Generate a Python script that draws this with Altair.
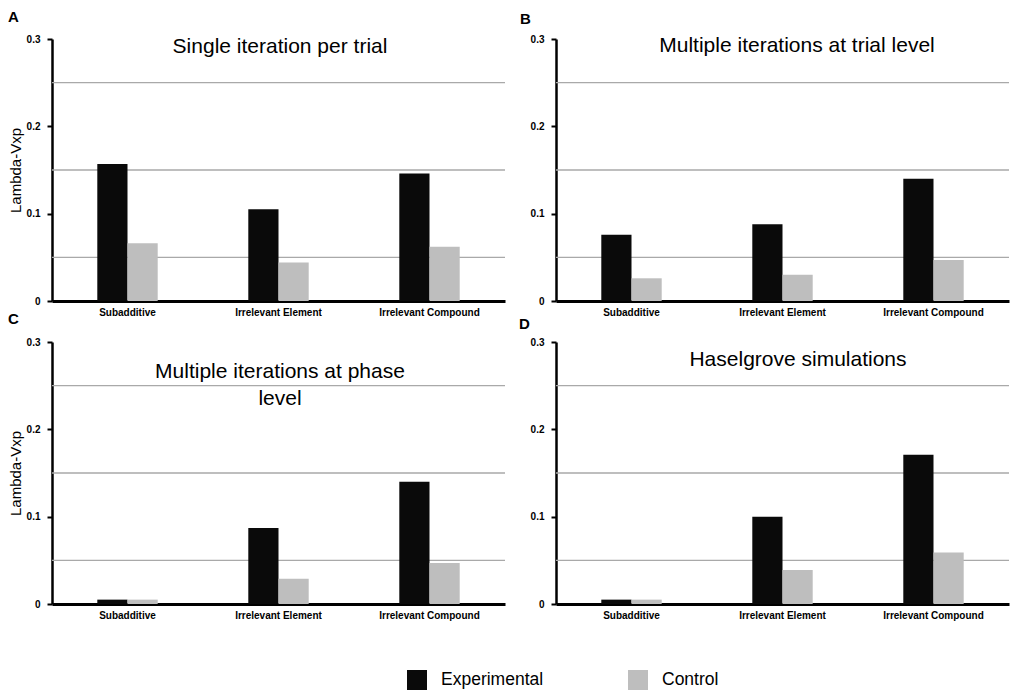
import altair as alt
import pandas as pd

categories = ["Subadditive", "Irrelevant Element", "Irrelevant Compound"]
series = ["Experimental", "Control"]
colors = ["#0a0a0a", "#bebebe"]
panel_letters = ["A", "B", "C", "D"]
panel_titles = [
    "Single iteration per trial",
    "Multiple iterations at trial level",
    "Multiple iterations at phase\nlevel",
    "Haselgrove simulations",
]
exp_A = [0.157, 0.105, 0.146]
ctl_A = [0.066, 0.044, 0.062]
exp_B = [0.076, 0.088, 0.140]
ctl_B = [0.026, 0.030, 0.047]
exp_C = [0.005, 0.087, 0.140]
ctl_C = [0.005, 0.029, 0.047]
exp_D = [0.005, 0.100, 0.171]
ctl_D = [0.005, 0.039, 0.059]
y_ticks = [0, 0.1, 0.2, 0.3]
grid_values = [0.05, 0.15, 0.25]
y_title = "Lambda-Vxp"

FONT = "Liberation Sans"
W, H = 453, 262

panel_exp = [exp_A, exp_B, exp_C, exp_D]
panel_ctl = [ctl_A, ctl_B, ctl_C, ctl_D]
# per-panel placement of letters and titles (pixels relative to plot area)
letter_pos = [(-44, -17), (-36, -15), (-44, -18), (-37, -13)]
title_pos = [(228, 8), (241, 7), (228, 30), (242, 18)]


def panel(i):
    rows = []
    for c, e, k in zip(categories, panel_exp[i], panel_ctl[i]):
        rows.append({"category": c, "series": series[0], "value": e})
        rows.append({"category": c, "series": series[1], "value": k})
    df = pd.DataFrame(rows)

    yaxis_kw = dict(
        values=y_ticks, format=".1~f", grid=False, domainColor="black",
        domainWidth=2.5, tickColor="black", tickWidth=2, tickSize=5,
        labelFontSize=10, labelColor="black", labelPadding=7, labelFont=FONT,
        labelFontWeight="bold",
    )
    if i in (0, 2):
        yaxis_kw.update(title=y_title, titleFontSize=15, titleFont=FONT,
                        titleFontWeight="normal", titleColor="black", titlePadding=3)
    else:
        yaxis_kw.update(title="")
    yaxis = alt.Axis(**yaxis_kw)

    yscale = alt.Scale(domain=[0, 0.3], nice=False, zero=True)

    grid = alt.Chart(pd.DataFrame({"value": grid_values})).mark_rule(
        color="#a9a9a9", strokeWidth=1.3
    ).encode(y=alt.Y("value:Q", scale=yscale, axis=yaxis))

    bars = alt.Chart(df).mark_bar().encode(
        x=alt.X("category:N", sort=categories,
                scale=alt.Scale(paddingInner=0.6, paddingOuter=0.3),
                axis=alt.Axis(title="", labelAngle=0, ticks=False, domainColor="black",
                              domainWidth=3, labelFontSize=10, labelColor="black",
                              labelPadding=6, labelFont=FONT, labelFontWeight="bold")),
        xOffset=alt.XOffset("series:N", sort=series,
                            scale=alt.Scale(paddingInner=0, paddingOuter=0)),
        y=alt.Y("value:Q", scale=yscale, axis=yaxis),
        color=alt.Color("series:N", sort=series,
                        scale=alt.Scale(domain=series, range=colors),
                        legend=alt.Legend(title="", orient="none", direction="horizontal",
                                          legendX=355, legendY=631,
                                          symbolType="square", symbolSize=400,
                                          symbolStrokeWidth=0, labelFontSize=17.5,
                                          labelFont=FONT, labelColor="black",
                                          labelOffset=14, columnPadding=84)),
    )

    title = alt.Chart(pd.DataFrame({"t": [panel_titles[i]]})).mark_text(
        font=FONT, fontSize=21, color="black", align="center", baseline="middle",
        lineBreak="\n", lineHeight=27,
    ).encode(text="t:N", x=alt.value(title_pos[i][0]), y=alt.value(title_pos[i][1]))

    letter = alt.Chart(pd.DataFrame({"t": [panel_letters[i]]})).mark_text(
        font=FONT, fontSize=15, fontWeight="bold", color="black", align="left",
        baseline="alphabetic",
    ).encode(text="t:N", x=alt.value(letter_pos[i][0]), y=alt.value(letter_pos[i][1]))

    return alt.layer(grid, bars, title, letter).properties(width=W, height=H)


chart = alt.concat(
    panel(0), panel(1), panel(2), panel(3), columns=2,
    spacing={"row": -5, "column": 13},
).resolve_scale(color="shared").configure_view(stroke=None).properties(
    padding={"left": 0, "top": 2, "right": 0, "bottom": 0}
)

chart.save("out.html", embed_options={"renderer": "svg", "actions": False})
